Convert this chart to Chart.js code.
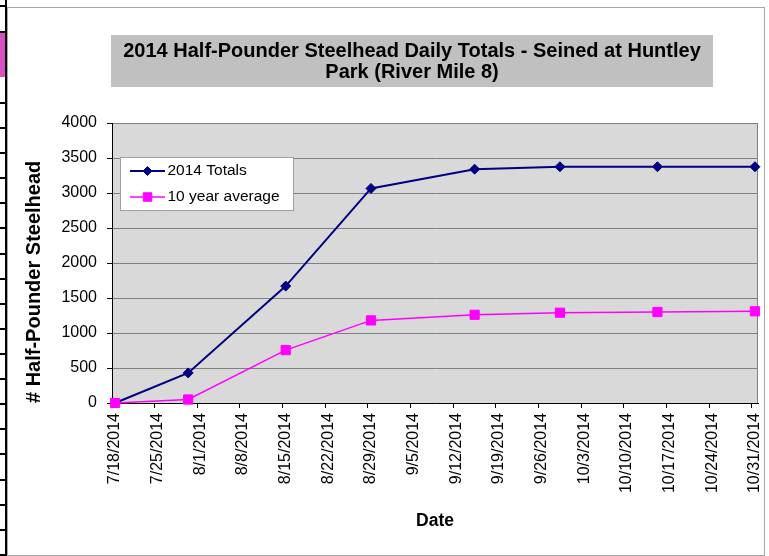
<!DOCTYPE html>
<html>
<head>
<meta charset="utf-8">
<title>2014 Half-Pounder Steelhead Daily Totals</title>
<script src="https://cdn.jsdelivr.net/npm/chart.js@4.4.1/dist/chart.umd.min.js"></script>
<style>
  html, body { margin: 0; padding: 0; background: #fff; }
  canvas { display: block; }
</style>
</head>
<body>
<canvas id="steelhead" width="769" height="556"></canvas>
<script>
// sample dates and cumulative counts
const sampleDates = ['7/18/2014', '7/30/2014', '8/15/2014', '8/29/2014', '9/15/2014', '9/29/2014', '10/15/2014', '10/31/2014'];
const totals2014 = [0, 430, 1670, 3065, 3340, 3375, 3375, 3375];
const tenYearAvg = [0, 50, 755, 1180, 1260, 1290, 1300, 1310];

// weekly date ticks on the x axis
const dateTicks = ['7/18/2014', '7/25/2014', '8/1/2014', '8/8/2014', '8/15/2014', '8/22/2014', '8/29/2014', '9/5/2014',
  '9/12/2014', '9/19/2014', '9/26/2014', '10/3/2014', '10/10/2014', '10/17/2014', '10/24/2014', '10/31/2014'];

const titleLines = ['2014 Half-Pounder Steelhead Daily Totals - Seined at Huntley', 'Park (River Mile 8)'];

const FONT = "'Liberation Sans', Arial, sans-serif";
const DAY = 86400000;

function parseDate(s) {
  const [m, d, y] = s.split('/').map(Number);
  return Date.UTC(y, m - 1, d);
}
const origin = parseDate(dateTicks[0]);
function toDay(s) {
  return Math.round((parseDate(s) - origin) / DAY);
}
function fromDay(v) {
  const dt = new Date(origin + Math.round(v) * DAY);
  return (dt.getUTCMonth() + 1) + '/' + dt.getUTCDate() + '/' + dt.getUTCFullYear();
}
// Excel puts each point in the middle of its day
function points(values) {
  return sampleDates.map((d, i) => ({ x: toDay(d) + 0.5, y: values[i] }));
}

Chart.defaults.font.family = FONT;
Chart.defaults.color = '#000';

// sheet frame, plot background and title box
const frame = {
  id: 'frame',
  beforeDraw(chart) {
    const ctx = chart.ctx;
    const a = chart.chartArea;
    ctx.save();
    ctx.fillStyle = '#fff';
    ctx.fillRect(0, 0, chart.width, chart.height);

    // bits of the spreadsheet showing on the left
    ctx.fillStyle = '#000';
    ctx.fillRect(5, 0, 2, chart.height);
    ctx.fillRect(0, 5, 6, 2);
    ctx.fillRect(0, 31, 6, 2);
    for (let y = 102; y < chart.height; y += 25.1) {
      ctx.fillRect(0, Math.round(y), 6, 2);
    }
    ctx.fillStyle = '#d94fc4';
    ctx.fillRect(0, 33, 5, 44);

    ctx.strokeStyle = '#a6a6a6';
    ctx.lineWidth = 1;
    ctx.strokeRect(7.5, 7.5, 757, 548);

    // plot area
    ctx.fillStyle = '#d9d9d9';
    ctx.fillRect(a.left, a.top, a.right - a.left, a.bottom - a.top);
    ctx.strokeStyle = '#808080';
    ctx.beginPath();
    ctx.moveTo(a.left, a.top + 0.5);
    ctx.lineTo(a.right - 0.5, a.top + 0.5);
    ctx.lineTo(a.right - 0.5, a.bottom);
    ctx.stroke();

    // title
    ctx.fillStyle = '#c0c0c0';
    ctx.fillRect(111, 35, 602, 52);
    ctx.fillStyle = '#000';
    ctx.font = 'bold 20px ' + FONT;
    ctx.textAlign = 'center';
    ctx.textBaseline = 'middle';
    ctx.fillText(titleLines[0], 412, 51);
    ctx.fillText(titleLines[1], 412, 72.5);
    ctx.restore();
  }
};

// legend with line + marker samples, sitting inside the plot
const lineLegend = {
  id: 'lineLegend',
  afterDraw(chart) {
    const ctx = chart.ctx;
    const a = chart.chartArea;
    const bx = a.left + 8, by = a.top + 34;
    ctx.save();
    ctx.fillStyle = '#fff';
    ctx.fillRect(bx, by, 173, 53);
    ctx.strokeStyle = '#a0a0a0';
    ctx.lineWidth = 1;
    ctx.strokeRect(bx + 0.5, by + 0.5, 173, 53);
    ctx.font = '15.5px ' + FONT;
    ctx.textBaseline = 'middle';
    ctx.textAlign = 'left';
    chart.data.datasets.forEach((ds, i) => {
      const y = by + 14 + i * 26;
      ctx.strokeStyle = ds.borderColor;
      ctx.lineWidth = ds.borderWidth;
      ctx.beginPath();
      ctx.moveTo(bx + 10, y);
      ctx.lineTo(bx + 45, y);
      ctx.stroke();
      ctx.fillStyle = ds.backgroundColor;
      ctx.lineWidth = 1;
      Chart.helpers.drawPoint(ctx, { pointStyle: ds.pointStyle, radius: ds.pointRadius - 0.5, rotation: 0, borderWidth: 1 }, bx + 27.5, y);
      ctx.fillStyle = '#000';
      ctx.fillText(ds.label, bx + 47.5, y);
    });
    ctx.restore();
  }
};

new Chart(document.getElementById('steelhead'), {
  type: 'line',
  data: {
    datasets: [{
      label: '2014 Totals',
      data: points(totals2014),
      borderColor: '#000080',
      backgroundColor: '#000080',
      borderWidth: 2,
      pointStyle: 'rectRot',
      pointRadius: 5,
      pointBorderWidth: 1,
      clip: false,
      order: 1
    }, {
      label: '10 year average',
      data: points(tenYearAvg),
      borderColor: '#ff00ff',
      backgroundColor: '#ff00ff',
      borderWidth: 1.5,
      pointStyle: 'rect',
      pointRadius: 6.5,
      pointBorderWidth: 1,
      clip: false,
      order: 0
    }]
  },
  options: {
    responsive: false,
    animation: false,
    events: [],
    layout: { padding: { top: 123, right: 11, left: 0, bottom: 0 } },
    plugins: {
      legend: { display: false },
      title: { display: false },
      tooltip: { enabled: false }
    },
    scales: {
      x: {
        type: 'linear',
        min: 0,
        max: toDay(dateTicks[dateTicks.length - 1]) + 1,
        afterBuildTicks: (scale) => {
          scale.ticks = dateTicks.map(t => ({ value: toDay(t) }));
        },
        afterFit: (scale) => {
          scale.height = 153;
          scale.paddingLeft = 0;
          scale.paddingRight = 0;
        },
        ticks: {
          autoSkip: false,
          minRotation: 90,
          maxRotation: 90,
          padding: 5,
          labelOffset: 3,
          font: { size: 16 },
          callback: (v) => fromDay(v)
        },
        grid: { drawOnChartArea: false, tickLength: 5, tickColor: '#000' },
        border: { color: '#000' },
        title: {
          display: true,
          text: 'Date',
          font: { size: 17.5, weight: 'bold' },
          padding: { top: 0, bottom: 24.5 }
        }
      },
      y: {
        min: 0,
        max: 4000,
        afterFit: (scale) => {
          scale.width = 112;
          scale.paddingTop = 0;
          scale.paddingBottom = 0;
        },
        ticks: { stepSize: 500, padding: 10, font: { size: 16 }, callback: (v) => String(v) },
        grid: { color: '#808080', tickLength: 5, tickColor: '#000' },
        border: { color: '#000' },
        title: {
          display: true,
          text: '# Half-Pounder Steelhead',
          align: 'start',
          font: { size: 20, weight: 'bold' },
          padding: { top: 22.5, bottom: 0 }
        }
      }
    }
  },
  plugins: [frame, lineLegend]
});
</script>
</body>
</html>
